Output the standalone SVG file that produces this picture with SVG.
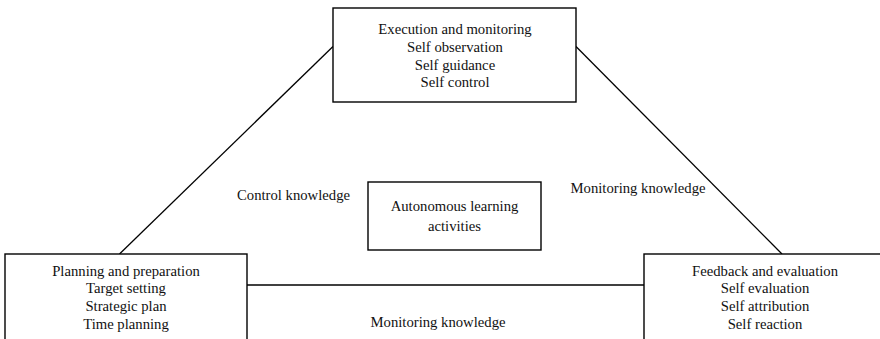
<svg xmlns="http://www.w3.org/2000/svg" width="880" height="339" viewBox="0 0 880 339">
  <style>
    .box { fill: #ffffff; stroke: #000000; stroke-width: 1.4; }
    .link { stroke: #000000; stroke-width: 1.3; fill: none; }
    .t { font-family: 'Liberation Serif', 'DejaVu Serif', serif; font-size: 14.7px; fill: #111111; text-anchor: middle; }
  </style>
  <rect width="880" height="339" fill="#ffffff"/>

  <!-- connectors between the three phases -->
  <g id="connectors">
    <line class="link" x1="333" y1="46.5" x2="119.5" y2="254"/>
    <line class="link" x1="576" y1="46.5" x2="782" y2="254"/>
    <line class="link" x1="247" y1="285" x2="644" y2="285"/>
  </g>

  <!-- connector labels -->
  <g id="labels">
    <text class="t" x="293.5" y="200">Control knowledge</text>
    <text class="t" x="638" y="193">Monitoring knowledge</text>
    <text class="t" x="438" y="327">Monitoring knowledge</text>
  </g>

  <g id="execution">
    <rect class="box" x="333" y="8" width="243" height="94"/>
    <text class="t" x="455" y="34">Execution and monitoring</text>
    <text class="t" x="455" y="51.8">Self observation</text>
    <text class="t" x="455" y="69.6">Self guidance</text>
    <text class="t" x="455" y="87.4">Self control</text>
  </g>

  <g id="center">
    <rect class="box" x="368" y="182" width="173" height="68"/>
    <text class="t" x="454.5" y="211">Autonomous learning</text>
    <text class="t" x="454.5" y="231">activities</text>
  </g>

  <g id="planning">
    <rect class="box" x="5" y="254" width="242" height="100"/>
    <text class="t" x="126" y="275.5">Planning and preparation</text>
    <text class="t" x="126" y="293.3">Target setting</text>
    <text class="t" x="126" y="311.1">Strategic plan</text>
    <text class="t" x="126" y="328.9">Time planning</text>
  </g>

  <g id="feedback">
    <rect class="box" x="644" y="254" width="242" height="100"/>
    <text class="t" x="765" y="275.5">Feedback and evaluation</text>
    <text class="t" x="765" y="293.3">Self evaluation</text>
    <text class="t" x="765" y="311.1">Self attribution</text>
    <text class="t" x="765" y="328.9">Self reaction</text>
  </g>
</svg>
